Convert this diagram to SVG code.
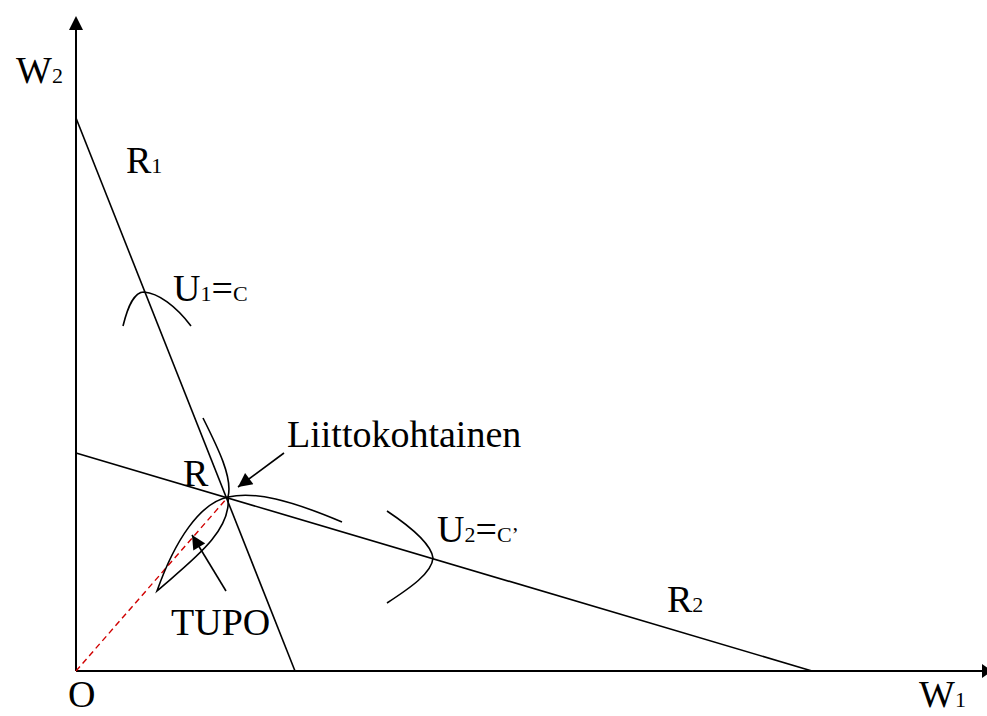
<svg xmlns="http://www.w3.org/2000/svg" width="987" height="716" viewBox="0 0 987 716">
<defs>
<style>
.ln{fill:none;stroke:#000;stroke-width:1.6}
.ax{fill:none;stroke:#000;stroke-width:2}
.s{font-size:22px}
</style>
<marker id="ah" viewBox="0 0 10 10" refX="10" refY="5" markerWidth="16" markerHeight="14" markerUnits="userSpaceOnUse" orient="auto">
<path d="M0,0 L10,5 L0,10 Z" fill="#000"/>
</marker>
</defs>
<rect width="987" height="716" fill="#fff"/>
<g id="axes">
<line class="ax" x1="76" y1="671" x2="76" y2="28"/>
<polygon points="76,16 69,30 83,30" fill="#000"/>
<line class="ax" x1="76" y1="671" x2="982" y2="671"/>
<polygon points="992,671 982,664 982,678" fill="#000"/>
</g>
<g id="connectors">
<line class="ln" x1="76" y1="118" x2="295" y2="671"/>
<line class="ln" x1="76" y1="453" x2="812" y2="671"/>
<line x1="76" y1="671" x2="228" y2="497" stroke="#d00000" stroke-width="1.4" stroke-dasharray="6,4"/>
<path class="ln" d="M123,326 C128,306 134,292 144,292 C158,293 176,306 191,326"/>
<path class="ln" d="M387,511 C408,525 431,543 433,558 C432,573 410,588 387,603"/>
<path class="ln" d="M203,418 C218,448 233,478 228,497 C255,491 290,500 342,522"/>
<path class="ln" d="M228,497 C200,503 175,540 157,591 C190,562 232,532 228,497"/>
<line class="ln" x1="284" y1="453" x2="238" y2="487" marker-end="url(#ah)"/>
<line class="ln" x1="226" y1="591" x2="192" y2="535" marker-end="url(#ah)"/>
</g>
<g id="labels" font-family="'Liberation Serif', 'Times New Roman', 'DejaVu Serif', serif" font-size="38" fill="#000">
<text x="16" y="83">W<tspan class="s">2</tspan></text>
<text x="126" y="173">R<tspan class="s">1</tspan></text>
<text x="173" y="301">U<tspan class="s">1</tspan>=<tspan class="s">C</tspan></text>
<text x="287" y="447">Liittokohtainen</text>
<text x="183" y="486">R</text>
<text x="437" y="542">U<tspan class="s">2</tspan>=<tspan class="s">C’</tspan></text>
<text x="667" y="612">R<tspan class="s">2</tspan></text>
<text x="171" y="635">TUPO</text>
<text x="68" y="707">O</text>
<text x="919" y="707">W<tspan class="s">1</tspan></text>
</g>
</svg>
